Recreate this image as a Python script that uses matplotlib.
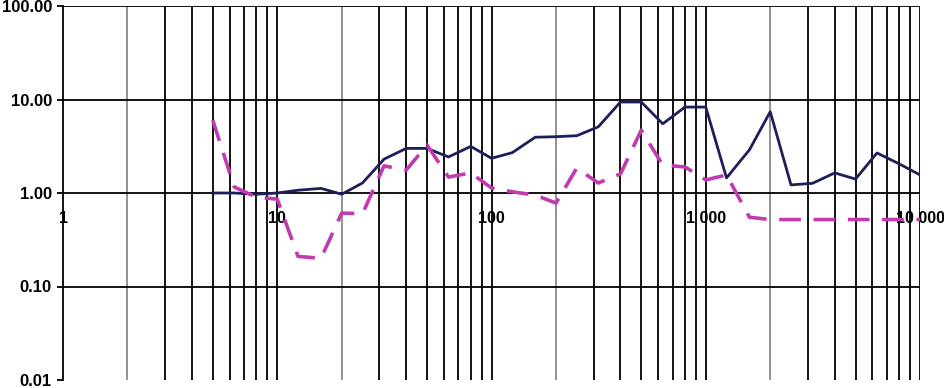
import matplotlib
matplotlib.use("Agg")
import matplotlib.pyplot as plt
from matplotlib.ticker import FixedLocator, FuncFormatter, NullFormatter

# 1/3 octave bands
freqs = [5, 6.3, 8, 10, 12.5, 16, 20, 25, 31.5, 40, 50, 63, 80, 100, 125, 160,
         200, 250, 315, 400, 500, 630, 800, 1000, 1250, 1600, 2000, 2500, 3150,
         4000, 5000, 6300, 8000, 10000]

solid_vals = [1.0, 1.0, 0.97, 1.0, 1.07, 1.12, 0.97, 1.28, 2.3, 3.0, 3.0, 2.43,
              3.15, 2.35, 2.7, 3.95, 4.0, 4.1, 5.1, 9.4, 9.4, 5.5, 8.3, 8.3,
              1.45, 2.9, 7.4, 1.22, 1.27, 1.64, 1.41, 2.68, 2.05, 1.56]

dashed_vals = [6.0, 1.16, 0.9, 0.86, 0.21, 0.2, 0.61, 0.6, 1.95, 1.76, 3.26, 1.48,
               1.64, 1.13, 1.03, 0.95, 0.78, 1.85, 1.28, 1.6, 4.7, 1.99, 1.9, 1.38,
               1.56, 0.55, 0.52, 0.52, 0.52, 0.52, 0.52, 0.52, 0.52, 0.52]

x_major = [1, 10, 100, 1000, 10000]
x_labels = ["1", "10", "100", "1 000", "10 000"]
y_major = [0.01, 0.1, 1, 10, 100]

plt.rcParams['font.family'] = ['Liberation Sans', 'DejaVu Sans']

fig = plt.figure(figsize=(9.44, 3.88), dpi=100)
ax = fig.add_axes([63 / 944, 1 - 380 / 388, (920 - 63) / 944, (380 - 6) / 388])

ax.set_xscale('log')
ax.set_yscale('log')
ax.set_xlim(1, 10000)
ax.set_ylim(0.01, 100)

# grid
minor = [m * d for d in [1, 10, 100, 1000] for m in range(2, 10)]
for v in minor:
    col = '#8a8a8a' if str(v).startswith('2') else 'black'
    ax.axvline(v, color=col, lw=1.3, zorder=1)
for v in x_major[1:]:
    ax.axvline(v, color='black', lw=1.3, zorder=1)
for v in y_major[1:]:
    ax.axhline(v, color='black', lw=1.3, zorder=1)

ax.plot(freqs, solid_vals, color='#1e1e5a', lw=2.0, zorder=3)
ax.plot(freqs, dashed_vals, color='#c23ab0', lw=2.6, dashes=(6, 3.5), zorder=3)

for s in ['top', 'right']:
    ax.spines[s].set_visible(False)
ax.spines['left'].set_linewidth(1.3)
ax.spines['bottom'].set_position(('data', 1))
ax.spines['bottom'].set_visible(False)

ax.xaxis.set_major_locator(FixedLocator(x_major))
ax.xaxis.set_major_formatter(FuncFormatter(lambda v, p: x_labels[x_major.index(round(v))] if round(v) in x_major else ""))
ax.xaxis.set_minor_formatter(NullFormatter())
ax.tick_params(axis='x', which='both', length=0, pad=13)

ax.yaxis.set_major_locator(FixedLocator(y_major))
ax.yaxis.set_major_formatter(FuncFormatter(lambda v, p: f"{v:.2f}"))
ax.yaxis.set_minor_formatter(NullFormatter())
ax.tick_params(axis='y', which='minor', length=0)
ax.tick_params(axis='y', which='major', length=4, width=1.3, pad=4)

for lab in ax.get_xticklabels():
    lab.set_fontsize(11.5)
    lab.set_fontweight('bold')
    lab.set_clip_on(False)
for lab in ax.get_yticklabels():
    lab.set_fontsize(12)
    lab.set_fontweight('bold')
    lab.set_clip_on(False)

fig.savefig('out.png', dpi=100)
